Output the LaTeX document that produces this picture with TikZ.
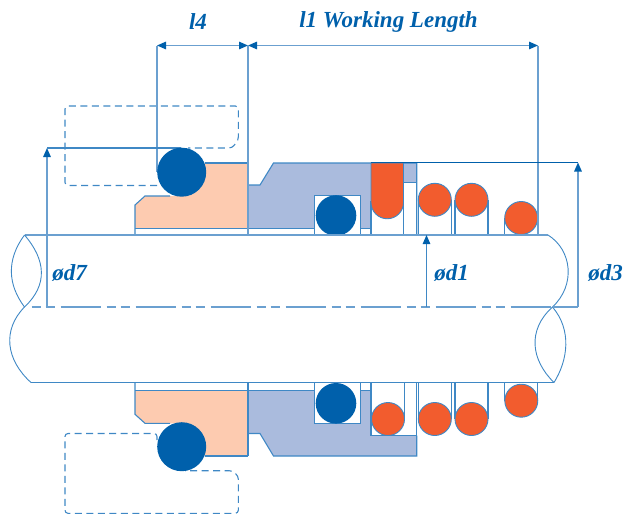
\documentclass[tikz,border=0pt]{standalone}
\usepackage{fontspec}
\setmainfont{Liberation Serif}
\usetikzlibrary{arrows.meta}
\definecolor{sealblue}{HTML}{0060AB}
\definecolor{linblue}{HTML}{3F88C5}
\definecolor{dimblue}{HTML}{6BA0D0}
\definecolor{peach}{HTML}{FDCBB0}
\definecolor{bodyblue}{HTML}{AABBDD}
\definecolor{springred}{HTML}{F25C2E}
\begin{document}
\begin{tikzpicture}[x=1pt,y=-1pt]
	\tikzset{>={Triangle[length=9pt,width=7.5pt,color=sealblue]}}
	\tikzset{part/.style={draw=linblue,line width=1.1pt}}
	\tikzset{dimline/.style={draw=dimblue,line width=1.4pt}}
	\tikzset{hidden/.style={draw=linblue,line width=1.1pt,dash pattern=on 7pt off 4.5pt,rounded corners=3pt}}
	\tikzset{label/.style={text=sealblue,font=\bfseries\itshape\fontsize{23}{23}\selectfont,inner sep=0pt}}
	\tikzset{oring/.style={fill=sealblue}}
	\tikzset{spring/.style={fill=springred,draw=linblue,line width=0.9pt}}
	\useasboundingbox (0,0) rectangle (624,517);
	\coordinate (S1) at (24.5,235);
	\coordinate (S2) at (548,235);
	\coordinate (S3) at (24.5,307);
	\coordinate (S4) at (552.5,307);
	\coordinate (S5) at (31,382.5);
	\coordinate (S6) at (554,382.5);
	\coordinate (L) at (157,45.5);
	\coordinate (M) at (248,45.5);
	\coordinate (R) at (538,45.5);
	\coordinate (D7) at (47,148);
	\coordinate (D1) at (426.5,235);
	\coordinate (D3) at (578,162.5);
	\coordinate (O1) at (181.7,172.2);
	\coordinate (O2) at (181.7,446.7);
	% upper half
	\fill [peach] (135,228.5) -- (135,205) -- (145,196) -- (175,196) -- (205,163) -- (248,163) -- (248,228.5) -- cycle;
	\fill [bodyblue] (248,228.5) -- (248,185) -- (260,185) -- (273.5,163) -- (416.7,163) -- (416.7,182.5) -- (403.5,182.5) -- (403.5,228.5) -- cycle;
	\draw [part,fill=white] (314.5,235) -- (314.5,195.5) -- (360.5,195.5) -- (360.5,235);
	\draw [part] (135,235) -- (135,205) -- (145,196) -- (170,196);
	\draw [part] (205,163) -- (248,163);
	\draw [part] (135,228.5) -- (314.5,228.5);
	\draw [part] (360.5,228.5) -- (371,228.5);
	\draw [part] (248,185) -- (260,185) -- (273.5,163) -- (416.7,163) -- (416.7,235);
	\draw [part,fill=white] (371,202) rectangle (403.5,235);
	\draw [part] (403.5,182.5) -- (416.7,182.5);
	\draw [spring] (371,163) -- (371,202.5) arc [start angle=180,end angle=0,radius=16.25] -- (403.5,163) -- cycle;
	\draw [part] (418.5,200) -- (418.5,235);
	\draw [part] (451.3,200) -- (451.3,235);
	\draw [part] (455,200) -- (455,235);
	\draw [part] (488,200) -- (488,235);
	\draw [part] (504.7,218) -- (504.7,235);
	\filldraw [spring] (434.8,199.8) circle (16.5);
	\filldraw [spring] (471.5,199.8) circle (16.5);
	\filldraw [spring] (521.2,218) circle (16.5);
	\fill [oring] (336,215.5) circle (20.3);
	% lower half
	\fill [peach] (135,390.3) -- (135,414.3) -- (145,423.3) -- (175,423.3) -- (205,456) -- (248,456) -- (248,390.3) -- cycle;
	\fill [bodyblue] (248,390.3) -- (248,433.5) -- (260,433.5) -- (273.5,456) -- (416.7,456) -- (416.7,390.3) -- cycle;
	\draw [part,fill=white] (314.5,382.5) -- (314.5,423.5) -- (360.5,423.5) -- (360.5,382.5);
	\draw [part,fill=white] (371,382.5) rectangle (416.7,435.7);
	\draw [part] (135,382.5) -- (135,414.3) -- (145,423.3) -- (170,423.3);
	\draw [part] (205,456) -- (248,456);
	\draw [part] (135,390.3) -- (314.5,390.3);
	\draw [part] (360.5,390.3) -- (371,390.3);
	\draw [part] (248,382.5) -- (248,390.3);
	\draw [part] (248,390.3) -- (248,456);
	\draw [part] (248,433.5) -- (260,433.5) -- (273.5,456) -- (416.7,456) -- (416.7,435.7);
	\draw [part] (404.5,382.5) -- (404.5,419);
	\draw [part] (418.5,382.5) -- (418.5,419);
	\draw [part] (451.3,382.5) -- (451.3,419);
	\draw [part] (455,382.5) -- (455,419);
	\draw [part] (488,382.5) -- (488,419);
	\draw [part] (504.7,382.5) -- (504.7,400.7);
	\draw [part] (537.7,382.5) -- (537.7,400.7);
	\filldraw [spring] (388,419) circle (16.5);
	\filldraw [spring] (434.8,419) circle (16.5);
	\filldraw [spring] (471.5,419) circle (16.5);
	\filldraw [spring] (521.3,400.7) circle (16.5);
	\fill [oring] (336,403.3) circle (20.3);
	% hidden outlines
	\draw [hidden] (157,185.5) -- (65,185.5) -- (65,106) -- (238.3,106) -- (238.3,140) -- (232,148) -- (188,148);
	\draw [hidden] (157,440) -- (157,433.5) -- (65,433.5) -- (65,513.3) -- (238.3,513.3) -- (238.3,476) -- (232,470.7) -- (185,470.7);
	% shaft
	\draw [dimline] (S1) -- (S2);
	\draw [part] (S5) -- (S6);
	\draw [part,line width=0.9pt] (S1) .. controls (6,260) and (8,285) .. (S3);
	\draw [part,line width=0.9pt] (S1) .. controls (46,260) and (48,285) .. (S3);
	\draw [part,line width=0.9pt] (S3) .. controls (2,330) and (6,360) .. (S5);
	\draw [part,line width=0.9pt] (S2) .. controls (572,250) and (576,285) .. (S4);
	\draw [part,line width=0.9pt] (S4) .. controls (527,330) and (531,360) .. (S6);
	\draw [part,line width=0.9pt] (S4) .. controls (572,330) and (568,360) .. (S6);
	\draw [dimline,dash pattern=on 40pt off 6pt on 9pt off 5pt on 9pt off 6pt,dash phase=42.3pt] (28,307) -- (S4);
	% dimensions
	\draw [dimline,<->] (L) -- (M);
	\draw [dimline,<->] (M) -- (R);
	\draw [dimline] (L) -- (157,172);
	\draw [dimline] (M) -- (248,235);
	\draw [dimline] (R) -- (538,235);
	\draw [dimline,->] (47,307) -- (D7);
	\draw [part] (D7) -- (181,148);
	\draw [part,->] (426.5,307) -- (D1);
	\draw [dimline,->] (578,307) -- (D3);
	\draw [dimline] (552.5,307) -- (578,307);
	\draw [part,draw=sealblue,line width=0.9pt] (371,162.5) -- (D3);
	\fill [oring] (O1) circle (24.5);
	\fill [oring] (O2) circle (24.5);
	% labels
	\node [label] (l4) at (198,21.5) {l4};
	\node [label] (l1) at (388.5,21.5) {l1 Working Length};
	\node [label] (d7) at (69.5,273) {ød7};
	\node [label] (d1) at (451.5,273) {ød1};
	\node [label] (d3) at (605.5,273) {ød3};
\end{tikzpicture}
\end{document}
